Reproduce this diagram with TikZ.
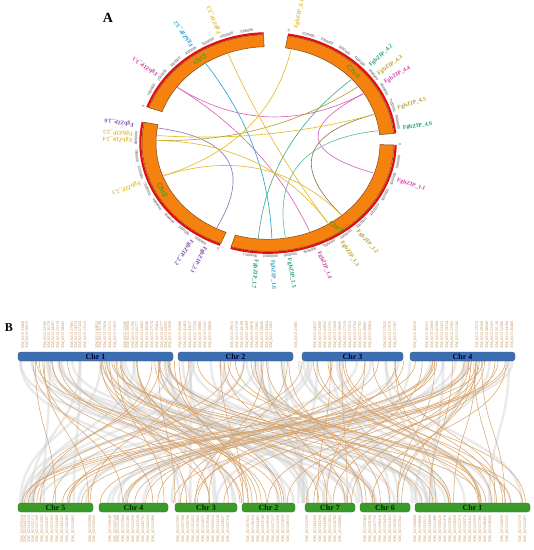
\documentclass[tikz,border=0pt]{standalone}
\usepackage{fontspec}
\setmainfont{Liberation Serif}
\newfontfamily\chrfont{Liberation Sans}
\definecolor{ringor}{HTML}{F5820F}
\definecolor{ringedge}{HTML}{7A4A20}
\definecolor{ringred}{HTML}{E01010}
\definecolor{chrgreen}{HTML}{5A9A1A}
\definecolor{cmag}{HTML}{D63CA8}
\definecolor{ccyan}{HTML}{2BA3CF}
\definecolor{cyel}{HTML}{E3BC2C}
\definecolor{colive}{HTML}{B8A030}
\definecolor{cgreen}{HTML}{1FA07A}
\definecolor{cpurp}{HTML}{7B4FA8}
\definecolor{cbrown}{HTML}{9A7450}
\definecolor{barblue}{HTML}{3D6FB0}
\definecolor{bargreen}{HTML}{3A9A2A}
\definecolor{lktan}{HTML}{D8A46C}
\definecolor{labtan}{HTML}{C8925A}
\definecolor{tickgray}{HTML}{404040}
\begin{document}
\begin{tikzpicture}[x=1pt,y=-1pt,
  ticklab/.style={font=\fontsize{3.8}{3.8}\selectfont, text=tickgray, inner sep=0pt},
  chrlab/.style={font=\chrfont\bfseries\fontsize{7}{7}\selectfont, text=chrgreen, inner sep=0pt},
  genelab/.style={font=\bfseries\fontsize{5.8}{5.8}\selectfont, inner sep=0.3pt, anchor=west},
  clink/.style={line width=0.65pt},
  ringseg/.style={fill=ringor, draw=ringedge, line width=0.5pt},
  redarc/.style={draw=ringred, line width=2.2pt},
  glink/.style={draw=gray!35, line width=2.4pt, opacity=0.45},
  olink/.style={draw=lktan, line width=0.55pt, opacity=0.95},
  topbar/.style={fill=barblue, draw=barblue!75!black, line width=0.4pt, rounded corners=3pt, minimum height=9pt, inner sep=0pt, font=\bfseries\fontsize{8}{8}\selectfont, text=black!80!blue},
  botbar/.style={fill=bargreen, draw=bargreen!75!black, line width=0.4pt, rounded corners=3pt, minimum height=9pt, inner sep=0pt, font=\bfseries\fontsize{8}{8}\selectfont, text=black!85!green},
  glab/.style={font=\fontsize{4.1}{4.1}\selectfont, text=labtan, inner sep=0pt, rotate=90},
  panlab/.style={font=\bfseries\fontsize{14}{14}\selectfont, inner sep=0pt}
]
\useasboundingbox (0,0) rectangle (534,550);
\fill[white] (0,0) rectangle (534,550);

% ---------------- Panel A ----------------
\node[panlab] (labA) at (108,18) {A};

\begin{scope}[shift={(268,143)}, yscale=0.86]
  % links
  \foreach \aa/\bb/\cc in {
     215.5/329/cmag!80, 215.5/68/cmag!80, 18.3/329/cmag!80,
     236/88/ccyan, 318.5/95/cgreen!85, 352.6/81/cgreen!70,
     342.6/48.7/cbrown, 189/117.5/cpurp!80,
     184.5/342.6/cyel, 181.6/324/colive, 160/48.7/cyel,
     57.2/181.6/cyel, 249/57.2/cyel, 282/160/cyel} {
    \draw[clink, \cc] (\aa:111) .. controls (\aa:37) and (\bb:37) .. (\bb:111);
  }
  % chromosome ring segments
  \foreach \st/\en in {1/107, 112/191, 199/268, 279/355} {
    \path[ringseg] (\st:112) arc[start angle=\st, end angle=\en, radius=112]
       -- (\en:126) arc[start angle=\en, end angle=\st, radius=126] -- cycle;
    \draw[redarc] (\st:127.6) arc[start angle=\st, end angle=\en, radius=127.6];
  }
  % tick labels
  \foreach \st/\nn in {1/11, 112/8, 199/7, 279/8} {
    \foreach \k in {0,...,\nn} {
      \pgfmathsetmacro\ang{\st+8.8*\k}
      \pgfmathsetmacro\rot{-\ang-90}
      \pgfmathsetmacro\rot{cos(\rot)<0 ? \rot+180 : \rot}
      \ifnum\k=0 \def\txt{0}\else\edef\txt{\k000000}\fi
      \node[ticklab, rotate=\rot] (tk\st-\k) at (\ang:132) {\txt};
    }
  }
  % chromosome names
  \node[chrlab, rotate=-35] (chrA1) at (55:119) {Chr1};
  \node[chrlab, rotate=-62] (chrA2) at (152.6:119) {Chr2};
  \node[chrlab, rotate=35] (chrA3) at (235:119) {chr3};
  \node[chrlab, rotate=-46] (chrA4) at (316:119) {Chr4};
  % gene labels
  \foreach \ang/\id/\lab/\cc in {
     215.5/g31/3.1/cmag, 236/g32/3.2/ccyan, 249/g33/3.3/cyel,
     282/g41/4.1/cyel, 318.5/g42/4.2/cgreen, 324/g43/4.3/colive,
     329/g44/4.4/cmag, 342.6/g45/4.5/colive, 352.6/g46/4.6/cgreen,
     18.3/g11/1.1/cmag, 48.7/g12/1.2/colive, 57.2/g13/1.3/colive,
     68/g14/1.4/cmag, 81/g15/1.5/cgreen, 88/g16/1.6/ccyan, 95/g17/1.7/cgreen,
     117.5/g21/2.1/cpurp, 124/g22/2.2/cpurp, 160/g23/2.3/cyel,
     181.6/g24/2.4/cyel, 184.5/g25/2.5/cyel, 189/g26/2.6/cpurp} {
    \node[genelab, text=\cc, rotate=-\ang] (\id) at (\ang:135.5) {FgbZIP\_\lab};
  }
\end{scope}

% ---------------- Panel B ----------------
\node[panlab, font=\bfseries\fontsize{12}{12}\selectfont] (labB) at (9,328) {B};

\pgfmathsetseed{4242}
\foreach \i in {1,...,70} {
  \pgfmathsetmacro\xa{20+rnd*493}
  \pgfmathsetmacro\xb{20+rnd*508}
  \draw[glink] (\xa,361) .. controls (\xa,432) and (\xb,432) .. (\xb,503);
}
\foreach \i in {1,...,95} {
  \pgfmathsetmacro\xa{20+rnd*493}
  \pgfmathsetmacro\xb{20+rnd*508}
  \draw[olink] (\xa,361) .. controls (\xa,432) and (\xb,432) .. (\xb,503);
}

% top bars
\node[topbar, minimum width=155pt] (t1) at (95.5,356.5) {Chr 1};
\node[topbar, minimum width=115pt] (t2) at (235.5,356.5) {Chr 2};
\node[topbar, minimum width=101pt] (t3) at (352.5,356.5) {Chr 3};
\node[topbar, minimum width=105pt] (t4) at (462.5,356.5) {Chr 4};
% bottom bars
\node[botbar, minimum width=75pt] (b5) at (55.5,507.5) {Chr 5};
\node[botbar, minimum width=69pt] (b4) at (133.5,507.5) {Chr 4};
\node[botbar, minimum width=62pt] (b3) at (206,507.5) {Chr 3};
\node[botbar, minimum width=53pt] (b2) at (268.5,507.5) {Chr 2};
\node[botbar, minimum width=50pt] (b7) at (330,507.5) {Chr 7};
\node[botbar, minimum width=50pt] (b6) at (385,507.5) {Chr 6};
\node[botbar, minimum width=115pt] (b1) at (472.5,507.5) {Chr 1};

% gene labels above top bars
\foreach \x in {23,27,45,49,53,58,63,72,76,80,85,97,100,105,110,115,125,128,133,137,142,147,152,157,162,166,170,
                180,185,190,195,200,205,210,232,237,242,247,252,257,262,267,271,
                296,315,320,325,330,335,340,345,350,355,360,365,370,385,390,395,
                415,427,432,437,442,447,452,457,477,482,487,492,497,502,507,512} {
  \pgfmathtruncatemacro\pp{1+rnd*4.99}
  \pgfmathtruncatemacro\nn{1000+rnd*8999}
  \node[glab, anchor=west] (tl\x) at (\x,349) {XM\_0213\pp\nn};
}
% gene labels below bottom bars
\foreach \x in {22,25,29,33,37,42,47,52,57,62,67,73,90,94,
                110,115,118,123,128,133,138,143,148,153,
                178,183,188,193,198,203,208,213,218,223,228,
                248,253,258,263,268,273,278,283,288,
                307,315,320,325,330,335,340,
                365,370,375,380,385,390,395,400,
                415,420,425,430,435,440,445,450,455,460,465,470,475,480,485,490,502,507,520,525} {
  \pgfmathtruncatemacro\pp{1+rnd*4.99}
  \pgfmathtruncatemacro\nn{1000+rnd*8999}
  \node[glab, anchor=east] (bl\x) at (\x,515) {XM\_0213\pp\nn};
}
\end{tikzpicture}
\end{document}
